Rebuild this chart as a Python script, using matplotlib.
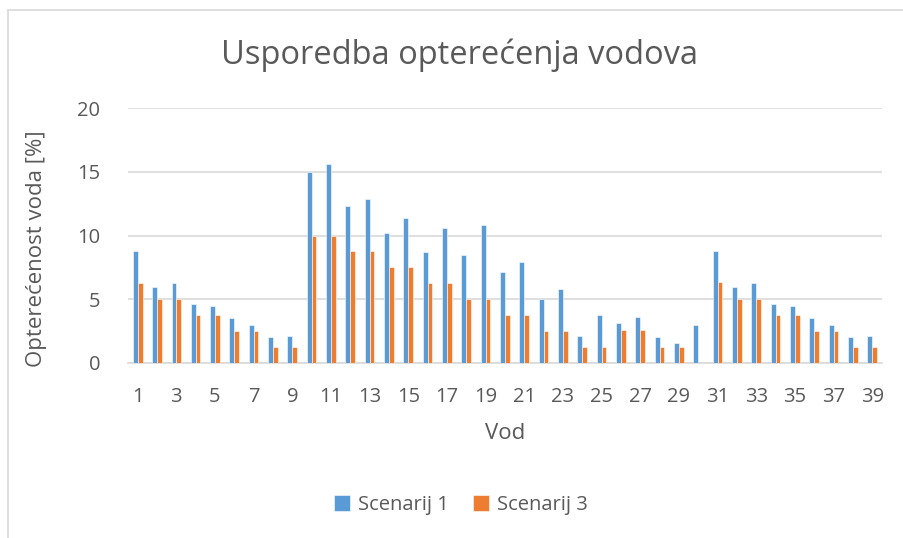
import matplotlib; matplotlib.use("Agg")
import matplotlib.pyplot as plt
import numpy as np
from matplotlib.patches import Rectangle

plt.rcParams["font.family"] = ["Open Sans", "DejaVu Sans"]

vodovi = list(range(1, 40))
scenarij1 = [8.75, 6.0, 6.3, 4.65, 4.45, 3.55, 2.95, 2.05, 2.1, 15.0,
             15.6, 12.3, 12.85, 10.2, 11.4, 8.7, 10.6, 8.45, 10.85, 7.1,
             7.95, 5.0, 5.8, 2.1, 3.8, 3.1, 3.6, 2.05, 1.55, 3.0,
             8.8, 6.0, 6.3, 4.65, 4.45, 3.55, 2.95, 2.05, 2.1]
scenarij3 = [6.25, 5.0, 5.0, 3.75, 3.75, 2.5, 2.5, 1.25, 1.25, 10.0,
             10.0, 8.75, 8.75, 7.5, 7.5, 6.25, 6.25, 5.0, 5.0, 3.75,
             3.75, 2.5, 2.5, 1.25, 1.25, 2.55, 2.55, 1.25, 1.25, 0.0,
             6.35, 5.0, 5.0, 3.75, 3.75, 2.5, 2.5, 1.25, 1.25]

TXT = "#595959"
fig = plt.figure(figsize=(9.04, 5.38), dpi=100)
fig.patches.append(Rectangle((8 / 904, -0.1), 1.2, 1 - 10 / 538 + 0.1, transform=fig.transFigure,
                             fill=False, ec="#d9d9d9", lw=1.2))
ax = fig.add_axes([128 / 904, 1 - 363 / 538, 754 / 904, 255 / 538])

x = np.arange(len(vodovi))
w = 0.25
ax.bar(x - w / 2, scenarij1, w, color="#5B9BD5", ec="white", lw=0.4, label="Scenarij 1", zorder=3)
ax.bar(x + w / 2, scenarij3, w, color="#ED7D31", ec="white", lw=0.4, label="Scenarij 3", zorder=3)

ax.set_xlim(-0.5, len(vodovi) - 0.5)
ax.set_ylim(0, 20)
ax.set_yticks([0, 5, 10, 15, 20])
ax.set_xticks(x[::2])
ax.set_xticklabels([str(v) for v in vodovi[::2]])
ax.yaxis.grid(True, color="#d9d9d9", lw=1.2, zorder=0)
for s in ["top", "right", "left"]:
    ax.spines[s].set_visible(False)
ax.spines["bottom"].set_color("#d9d9d9")
ax.spines["bottom"].set_linewidth(1.2)
ax.tick_params(length=0, labelsize=14.5, colors=TXT)
ax.tick_params(axis="y", pad=20)
ax.tick_params(axis="x", pad=17)

ax.set_ylabel("Opterećenost voda [%]", fontsize=16, color=TXT, labelpad=10)
ax.yaxis.set_label_coords(-0.107, 0.45)
ax.set_xlabel("Vod", fontsize=16, color=TXT, labelpad=12)
fig.text(0.508, 1 - 55 / 538, "Usporedba opterećenja vodova", ha="center", va="center",
         fontsize=23.5, color=TXT)
fig.legend(loc="center", bbox_to_anchor=(0.51, 1 - 505 / 538), ncol=2, frameon=False,
           fontsize=14.5, labelcolor=TXT, handlelength=0.8, handleheight=0.8,
           columnspacing=1.2, handletextpad=0.4)

fig.savefig("out.png", dpi=100)
